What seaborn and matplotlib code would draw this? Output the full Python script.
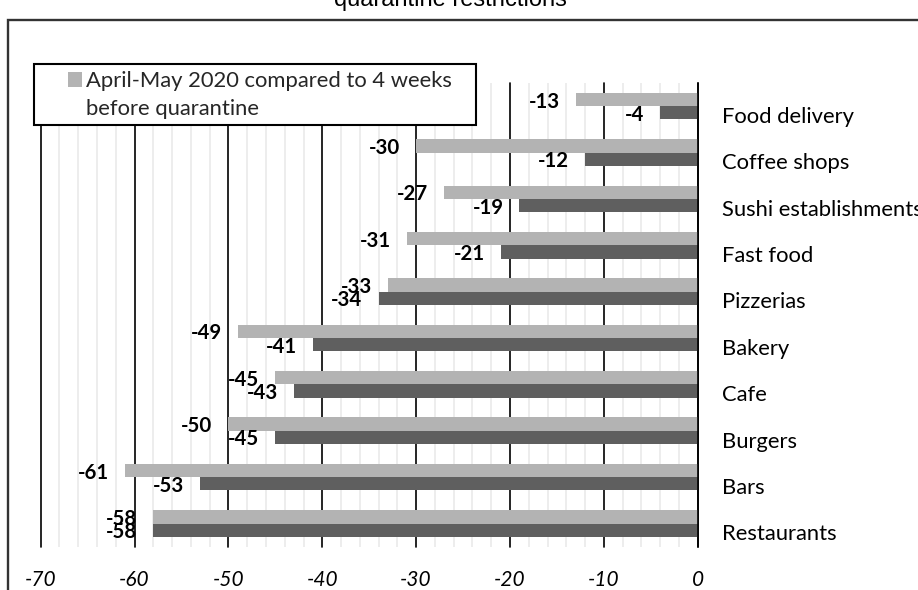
import matplotlib
matplotlib.use("Agg")
import matplotlib.pyplot as plt
import matplotlib.transforms as mtransforms
from matplotlib.patches import Rectangle, Patch
from matplotlib.ticker import MultipleLocator
import seaborn as sns
import pandas as pd

# ---------------- data ----------------
categories = ["Food delivery", "Coffee shops", "Sushi establishments", "Fast food",
              "Pizzerias", "Bakery", "Cafe", "Burgers", "Bars", "Restaurants"]
april_may_vs_before = [-13, -30, -27, -31, -33, -49, -45, -50, -61, -58]
second_series = [-4, -12, -19, -21, -34, -41, -43, -45, -53, -58]
series_names = ["April-May 2020 compared to 4 weeks before quarantine",
                "Second comparison"]
legend_lines = ["April-May 2020 compared to 4 weeks", "before quarantine"]
x_ticks = [-70, -60, -50, -40, -30, -20, -10, 0]
x_tick_labels = ["-70", "-60", "-50", "-40", "-30", "-20", "-10", "0"]
title_text = "quarantine restrictions"

light = "#b3b3b3"
dark = "#5f5f5f"

df = pd.DataFrame({
    "category": categories * 2,
    "series": [series_names[0]] * len(categories) + [series_names[1]] * len(categories),
    "value": april_may_vs_before + second_series,
})

sns.set_theme(style="white")
plt.rcParams["font.family"] = ["Lato", "DejaVu Sans"]
plt.rcParams["axes.unicode_minus"] = False

W, H = 918, 590
fig = plt.figure(figsize=(W / 100, H / 100), dpi=100)
fig.patch.set_facecolor("white")

left_px, right_px, top_px, bottom_px = 40.7, 697.7, 83.0, 546.7
ax = fig.add_axes([left_px / W, 1 - bottom_px / H, (right_px - left_px) / W,
                   (bottom_px - top_px) / H])

sns.barplot(data=df, y="category", x="value", hue="series", order=categories,
            hue_order=series_names, palette=[light, dark], width=0.573,
            orient="h", saturation=1, legend=False, ax=ax, linewidth=0,
            edgecolor="none", errorbar=None)

ax.set_xlim(-70, 0)
ax.set_ylim(9.5, -0.5)
ax.set_xlabel("")
ax.set_ylabel("")
for s in ax.spines.values():
    s.set_visible(False)

ax.set_xticks(x_ticks, labels=x_tick_labels, fontstyle="italic")
ax.xaxis.set_minor_locator(MultipleLocator(2))
ax.set_axisbelow(True)
ax.grid(which="major", axis="x", color="black", linewidth=1.2)
ax.grid(which="minor", axis="x", color="#ececec", linewidth=1.3)
ax.grid(which="both", axis="y", visible=False)
ax.tick_params(axis="x", which="both", length=0, pad=16.6, labelsize=15,
               colors="black")
ax.axvline(0, color="black", linewidth=1.2, zorder=4, clip_on=False)

ax.yaxis.tick_right()
ax.tick_params(axis="y", length=0, pad=17.3, labelsize=15.8, colors="black")
offset = mtransforms.ScaledTranslation(0, -6.3 / 72, fig.dpi_scale_trans)
for lbl in ax.get_yticklabels():
    lbl.set_transform(lbl.get_transform() + offset)

for tick in ax.xaxis.get_major_ticks():
    tick.gridline.set_clip_on(False)

for container, vals in zip(ax.containers, [april_may_vs_before, second_series]):
    texts = ax.bar_label(container, labels=[str(v) for v in vals], padding=11.5,
                         fontsize=14.7, fontweight="bold", color="black")
    for t in texts:
        t.set_va("center_baseline")

# outer chart frame (cropped)
fig.add_artist(Rectangle((7.5 / W, -0.2), 1.2, (1 - 19.5 / H) + 0.2,
                         transform=fig.transFigure, fill=False,
                         edgecolor="#333333", linewidth=1.7, zorder=0.5))

# title (partially cropped at top)
fig.text(450 / W, 1 - 6 / H, title_text, ha="center", va="baseline",
         fontsize=17, family=["Liberation Sans", "DejaVu Sans"], color="black")

# legend box
fig.add_artist(Rectangle((34.3 / W, 1 - 125 / H), (476 - 34.3) / W, (125 - 64) / H,
                         transform=fig.transFigure, facecolor="white",
                         edgecolor="black", linewidth=1.5, zorder=3))
handles = [Patch(facecolor=light, edgecolor="none"),
           Patch(facecolor="none", edgecolor="none")]
leg = fig.legend(handles, legend_lines, loc="upper left",
                 bbox_to_anchor=(68 / W, 1 - 71 / H), frameon=False,
                 borderpad=0, borderaxespad=0, handlelength=0.64,
                 handleheight=0.64, handletextpad=0.18, labelspacing=0.35,
                 fontsize=15.8)
leg.set_zorder(6)

fig.savefig("out.png", dpi=100, facecolor="white")
